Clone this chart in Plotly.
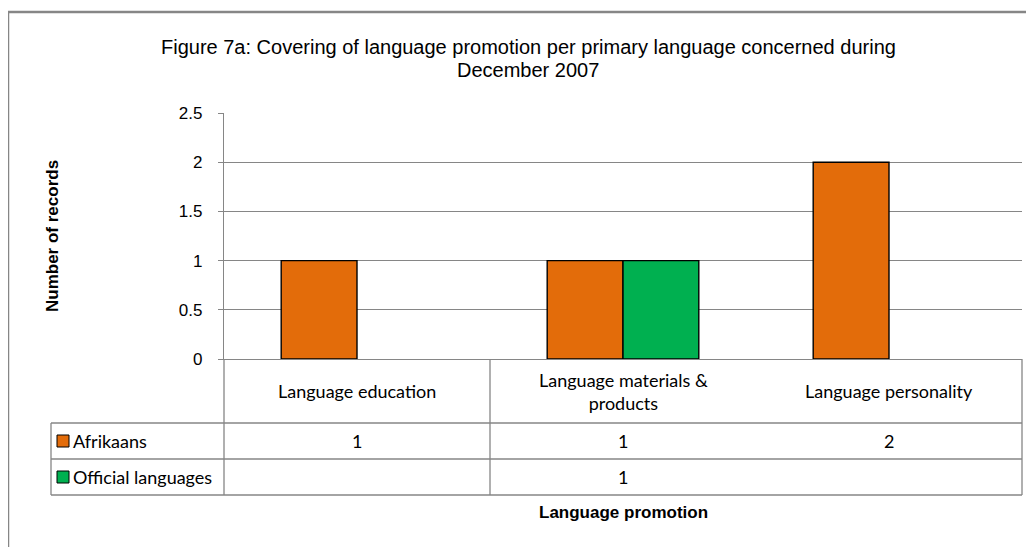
import plotly.graph_objects as go

categories = ["Language education", "Language materials & products", "Language personality"]
category_labels = ["Language education", "Language materials &<br>products", "Language personality"]
series_names = ["Afrikaans", "Official languages"]
afrikaans = [1, 1, 2]
official = [None, 1, None]
series_values = [afrikaans, official]
series_colors = ["#E36C0A", "#00B050"]
y_ticks = [0, 0.5, 1, 1.5, 2, 2.5]
y_tick_labels = ["0", "0.5", "1", "1.5", "2", "2.5"]
title_lines = ["Figure 7a: Covering of language promotion per primary language concerned during",
               "December 2007"]

OFF = 8  # page body margin
W, H = 1034 - OFF, 547 - OFF
L, R, T, B = 224, 1022, 113, 359  # plot area in page pixels
PW, PH = R - L, B - T

def px(xp):
    return (xp - L) / PW

def py(yp):
    return (B - yp) / PH

fig = go.Figure()
for name, vals, col in zip(series_names, series_values, series_colors):
    fig.add_trace(go.Bar(x=categories, y=vals, name=name,
                         marker=dict(color=col, line=dict(color="black", width=1.4))))

grid = "#868686"
narrow = "Liberation Sans Narrow, Liberation Sans"
table_font = dict(family="Lato, Carlito, Liberation Sans", size=18, color="black")
shapes = []
# outer chart border
shapes.append(dict(type="line", xref="paper", yref="paper", x0=px(8), x1=px(1040), y0=py(12), y1=py(12),
                   line=dict(color=grid, width=2.5)))
shapes.append(dict(type="line", xref="paper", yref="paper", x0=px(8), x1=px(8), y0=py(12), y1=py(560),
                   line=dict(color=grid, width=2.5)))
# table lines
tl = dict(color=grid, width=1.3)
for yy in [423, 459, 495]:
    shapes.append(dict(type="line", xref="paper", yref="paper", x0=px(51), x1=px(R), y0=py(yy), y1=py(yy), line=tl))
for xx in [L, 490, R]:
    shapes.append(dict(type="line", xref="paper", yref="paper", x0=px(xx), x1=px(xx), y0=py(B), y1=py(495), line=tl))
shapes.append(dict(type="line", xref="paper", yref="paper", x0=px(51), x1=px(51), y0=py(423), y1=py(495), line=tl))

annotations = []
row_y = [441, 477]
for i, (name, col) in enumerate(zip(series_names, series_colors)):
    yc = row_y[i]
    shapes.append(dict(type="rect", xref="paper", yref="paper", x0=px(57), x1=px(69), y0=py(yc - 6), y1=py(yc + 6),
                       fillcolor=col, line=dict(color="black", width=1)))
    annotations.append(dict(x=px(71), y=py(yc), xref="paper", yref="paper", text=name, showarrow=False,
                            xanchor="left", yanchor="middle", font=table_font))
    for cat, v in zip(categories, series_values[i]):
        if v is not None:
            annotations.append(dict(x=cat, y=py(yc), xref="x", yref="paper", text=str(v), showarrow=False,
                                    xanchor="center", yanchor="middle", font=table_font))
for cat, lab in zip(categories, category_labels):
    annotations.append(dict(x=cat, y=py(391), xref="x", yref="paper", text=lab, showarrow=False,
                            xanchor="center", yanchor="middle", font=table_font))

annotations.append(dict(x="Language materials & products", y=py(512), xref="x", yref="paper",
                        text="<b>Language promotion</b>", showarrow=False, xanchor="center", yanchor="middle",
                        font=dict(family=narrow, size=17, color="black")))
annotations.append(dict(x=px(52), y=py(236), xref="paper", yref="paper", text="<b>Number of records</b>",
                        textangle=-90, showarrow=False, xanchor="center", yanchor="middle",
                        font=dict(family=narrow, size=17, color="black")))
for line, yy in zip(title_lines, [47, 70]):
    annotations.append(dict(x=px(528), y=py(yy), xref="paper", yref="paper", text=line,
                            showarrow=False, xanchor="center", yanchor="middle",
                            font=dict(family=narrow, size=20, color="black")))

fig.update_layout(
    width=W, height=H,
    margin=dict(l=L - OFF, r=W - (R - OFF), t=T - OFF, b=H - (B - OFF), pad=0),
    paper_bgcolor="white", plot_bgcolor="white",
    barmode="group", bargap=0.43, bargroupgap=0,
    showlegend=False,
    shapes=shapes, annotations=annotations,
    font=dict(family="Liberation Sans", color="black"),
)
fig.update_xaxes(showticklabels=False, showgrid=False, showline=True, linecolor=grid, linewidth=1.3,
                 ticks="", zeroline=False)
fig.update_yaxes(range=[0, 2.5], tickvals=y_ticks, ticktext=y_tick_labels, showgrid=True, gridcolor=grid,
                 gridwidth=1.3, showline=True, linecolor=grid, linewidth=1.3, ticks="outside", ticklen=5,
                 tickcolor=grid, zeroline=False, ticklabelstandoff=12,
                 tickfont=dict(family=narrow, size=17, color="black"))

fig.write_html("out.html")
